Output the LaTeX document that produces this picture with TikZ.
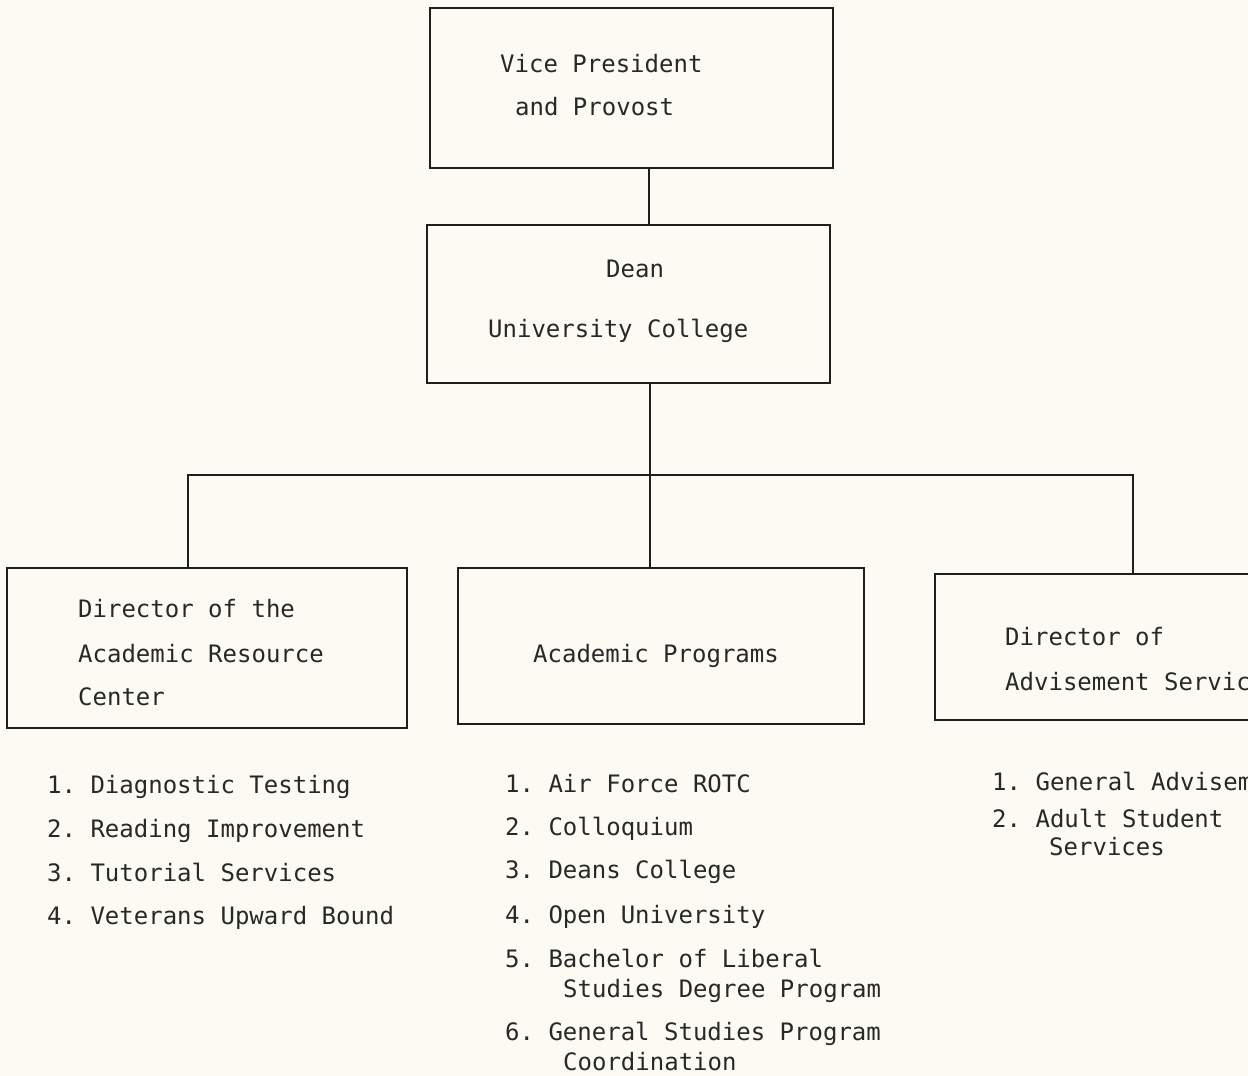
\documentclass[tikz,border=0pt]{standalone}
\usepackage{fontspec}
\setmonofont{DejaVu Sans Mono}
\definecolor{bgc}{RGB}{252,251,243}
\definecolor{linec}{RGB}{30,30,30}
\definecolor{textc}{RGB}{40,40,40}
\tikzset{
  box/.style={draw=linec, line width=1.4pt, inner sep=0pt, rectangle},
  lbl/.style={anchor=base west, inner sep=0pt, text=textc, font=\ttfamily\fontsize{24}{28}\selectfont},
  conn/.style={draw=linec, line width=1.4pt}
}
\begin{document}
\begin{tikzpicture}[x=1pt,y=-1pt]
\useasboundingbox (0,0) rectangle (1248,1076);
\clip (0,0) rectangle (1248,1076);
\fill[bgc] (0,0) rectangle (1248,1076);

% boxes
\node[box, minimum width=403pt, minimum height=160pt] (top) at (631.5,88) {};
\node[box, minimum width=403pt, minimum height=158pt] (dean) at (628.5,304) {};
\node[box, minimum width=400pt, minimum height=160pt] (arc) at (207,648) {};
\node[box, minimum width=406pt, minimum height=156pt] (acp) at (661,646) {};
\node[box, minimum width=355pt, minimum height=146pt] (adv) at (1112.5,647) {};

% connector coordinates
\coordinate (c1) at (649,0);
\coordinate (barL) at (188,475);
\coordinate (barM) at (650,475);
\coordinate (barR) at (1133,475);

\draw[conn] (top.south -| c1) -- (dean.north -| c1);
\draw[conn] (dean.south -| barM) -- (barM);
\draw[conn] (arc.north -| barL) -- (barL) -- (barR) -- (adv.north -| barR);
\draw[conn] (barM) -- (acp.north -| barM);

% box texts
\node[lbl] (t1) at (500,72) {Vice President};
\node[lbl] (t2) at (515,115) {and Provost};
\node[lbl] (d1) at (606,277) {Dean};
\node[lbl] (d2) at (488,337) {University College};
\node[lbl] (a1) at (78,617) {Director of the};
\node[lbl] (a2) at (78,662) {Academic Resource};
\node[lbl] (a3) at (78,705) {Center};
\node[lbl] (p1) at (533,662) {Academic Programs};
\node[lbl] (v1) at (1005,645) {Director of};
\node[lbl] (v2) at (1005,690) {Advisement Services};

% left list
\node[lbl] (l1) at (47,793) {1. Diagnostic Testing};
\node[lbl] (l2) at (47,837) {2. Reading Improvement};
\node[lbl] (l3) at (47,881) {3. Tutorial Services};
\node[lbl] (l4) at (47,924) {4. Veterans Upward Bound};

% middle list
\node[lbl] (m1) at (505,792) {1. Air Force ROTC};
\node[lbl] (m2) at (505,835) {2. Colloquium};
\node[lbl] (m3) at (505,878) {3. Deans College};
\node[lbl] (m4) at (505,923) {4. Open University};
\node[lbl] (m5) at (505,967) {5. Bachelor of Liberal};
\node[lbl] (m5b) at (563,997) {Studies Degree Program};
\node[lbl] (m6) at (505,1040) {6. General Studies Program};
\node[lbl] (m6b) at (563,1070) {Coordination};

% right list
\node[lbl] (r1) at (992,790) {1. General Advisement};
\node[lbl] (r2) at (992,827) {2. Adult Student};
\node[lbl] (r2b) at (1049,855) {Services};
\end{tikzpicture}
\end{document}
